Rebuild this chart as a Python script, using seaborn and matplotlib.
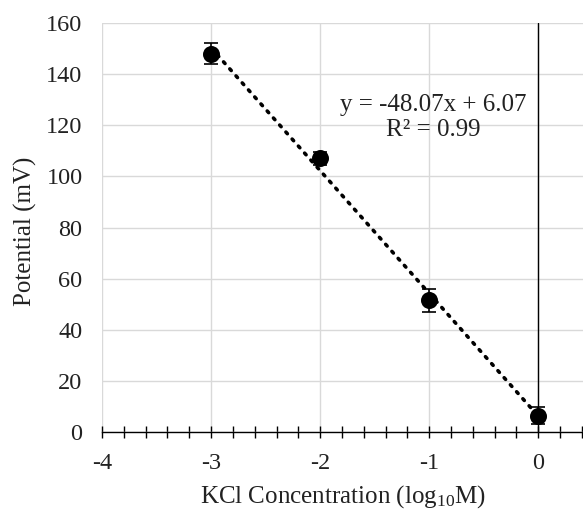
import numpy as np
import pandas as pd
import matplotlib
matplotlib.use("Agg")
import matplotlib.pyplot as plt
from matplotlib.ticker import MultipleLocator
import seaborn as sns

log_conc = [-3, -2, -1, 0]
potential = [148.0, 107.0, 51.5, 6.5]
error = [4.0, 2.5, 4.5, 3.5]
fit_text = "y = -48.07x + 6.07\nR² = 0.99"

df = pd.DataFrame({"log_conc": log_conc, "potential": potential, "err": error})

sns.set_style("white")
plt.rcParams["font.family"] = ["Liberation Serif", "DejaVu Serif"]
plt.rcParams["mathtext.fontset"] = "custom"
plt.rcParams["mathtext.rm"] = "Liberation Serif"
plt.rcParams["mathtext.it"] = "Liberation Serif:italic"

fig = plt.figure(figsize=(5.83, 5.09), dpi=100)
ax = fig.add_axes([0.175, 0.151, 0.825, 0.804])

# dotted linear trendline (Excel style)
sns.regplot(data=df, x="log_conc", y="potential", ax=ax, ci=None, truncate=True,
            scatter=False, color="black",
            line_kws={"linestyle": (0, (0.6, 2.0)), "linewidth": 2.6,
                      "dash_capstyle": "round", "zorder": 3})

ax.errorbar(df["log_conc"], df["potential"], yerr=df["err"], fmt="none",
            ecolor="black", elinewidth=1.2, capsize=5, capthick=1.2, zorder=4)
sns.scatterplot(data=df, x="log_conc", y="potential", ax=ax, color="black",
                s=150, edgecolor="black", linewidth=0, zorder=5)

ax.set_xlim(-4, 0.41)
ax.set_ylim(0, 160)
ax.xaxis.set_major_locator(MultipleLocator(1))
ax.xaxis.set_minor_locator(MultipleLocator(0.2))
ax.yaxis.set_major_locator(MultipleLocator(20))

ax.grid(True, which="major", color="#d9d9d9", linewidth=1.0)
ax.set_axisbelow(True)
for s in ["top", "right", "left"]:
    ax.spines[s].set_visible(False)
ax.spines["bottom"].set_color("black")
ax.spines["bottom"].set_linewidth(1.0)
ax.spines["bottom"].set_zorder(2)
ax.axvline(0, color="black", linewidth=1.0, zorder=2)

ax.tick_params(axis="x", which="both", bottom=True, direction="inout", length=8,
               width=1, color="black", labelsize=17.5, pad=11, labelcolor="#222222")
ax.tick_params(axis="y", which="both", left=False, length=0, labelsize=17.5, pad=14,
               labelcolor="#222222")
ax.set_xticklabels([f"{int(t)}" for t in ax.get_xticks()])

ax.set_xlabel(r"KCl Concentration (log$_{10}$M)", fontsize=18, color="#222222")
ax.set_ylabel("Potential (mV)", fontsize=18, color="#222222")
ax.yaxis.set_label_coords(-0.135, 0.49)
ax.xaxis.set_label_coords(0.5, -0.125)

ax.text(-0.96, 123, fit_text, ha="center", va="center", multialignment="center",
        fontsize=18, linespacing=1.2, color="#222222", zorder=6)

fig.savefig("out.png", dpi=100)
